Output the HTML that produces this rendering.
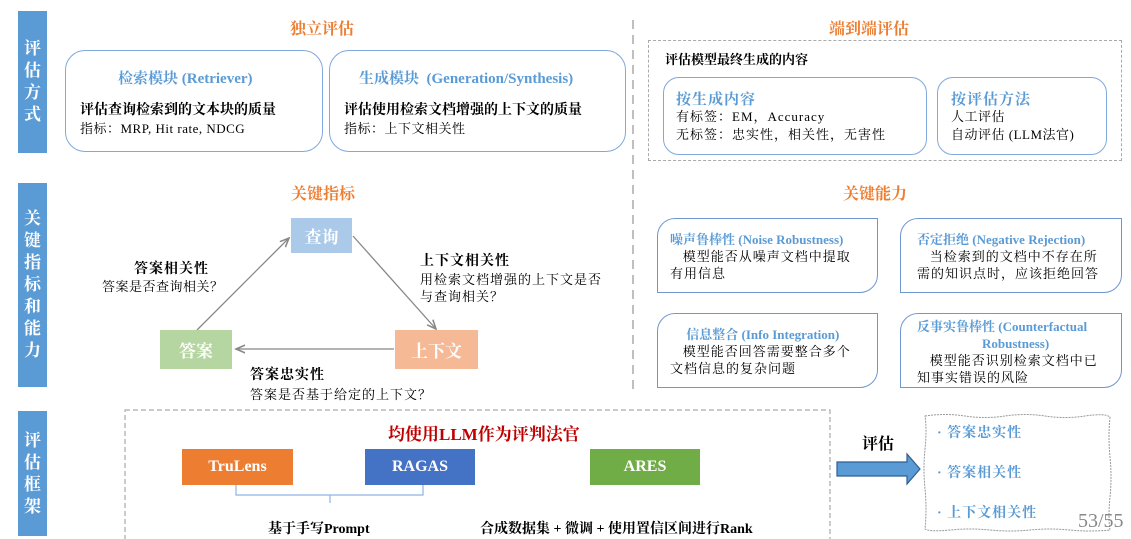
<!DOCTYPE html>
<html><head><meta charset="utf-8"><style>
*{margin:0;padding:0;box-sizing:border-box}
body{width:1131px;height:539px;background:#fff;position:relative;overflow:hidden;font-family:"Liberation Serif","Noto Serif CJK SC",serif;color:#000}
.a{position:absolute;white-space:nowrap}
.bar{position:absolute;left:18px;width:29px;background:#5b9bd5;color:#fff;font-weight:bold;font-size:17px;line-height:22px;text-align:center;display:flex;flex-direction:column;justify-content:center;align-items:center}
.or{color:#ed7d31;font-weight:bold;font-size:16px}
.rb{position:absolute;border:1.5px solid #7fa8dc;border-radius:20px}
.bt{color:#5b9bd5;font-weight:bold}
.leaf{position:absolute;border:1.5px solid #6f98d0;border-radius:18px 0 18px 0;font-size:13px;line-height:17px;padding:12px 0 0 12px;letter-spacing:1px}
.leaf .bt{letter-spacing:0}
.cb{position:absolute;color:#fff;font-size:17px;font-weight:bold;display:flex;align-items:center;justify-content:center}
.s{font-size:13px;letter-spacing:0.5px}
</style></head><body>
<div class="bar" style="top:11px;height:142px">评<br>估<br>方<br>式</div>
<div class="bar" style="top:183px;height:204px">关<br>键<br>指<br>标<br>和<br>能<br>力</div>
<div class="bar" style="top:411px;height:125px">评<br>估<br>框<br>架</div>

<div class="a or" style="left:290px;top:16px">独立评估</div>
<div class="rb" style="left:65px;top:50px;width:258px;height:102px"></div>
<div class="rb" style="left:329px;top:50px;width:297px;height:102px"></div>
<div class="a bt" style="left:118px;top:67px;font-size:15px">检索模块 (Retriever)</div>
<div class="a" style="left:80px;top:102px;font-size:14px;font-weight:bold;line-height:18px">评估查询检索到的文本块的质量</div>
<div class="a s" style="left:80px;top:120px;line-height:17px">指标：MRP, Hit rate, NDCG</div>
<div class="a bt" style="left:359px;top:67px;font-size:15px">生成模块 &nbsp;(Generation/Synthesis)</div>
<div class="a" style="left:344px;top:102px;font-size:14px;font-weight:bold;line-height:18px">评估使用检索文档增强的上下文的质量</div>
<div class="a s" style="left:344px;top:120px;line-height:17px">指标：上下文相关性</div>

<div class="a or" style="left:829px;top:16px">端到端评估</div>
<div class="a" style="left:648px;top:40px;width:474px;height:121px;border:1.5px dashed #aaa"></div>
<div class="a" style="left:665px;top:49px;font-size:13px;font-weight:bold">评估模型最终生成的内容</div>
<div class="rb" style="left:663px;top:77px;width:264px;height:78px;border-radius:16px"></div>
<div class="rb" style="left:937px;top:77px;width:170px;height:78px;border-radius:16px"></div>
<div class="a bt" style="left:676px;top:88px;font-size:15px;letter-spacing:1px">按生成内容</div>
<div class="a s" style="left:676px;top:108px;line-height:18px;letter-spacing:1px">有标签：EM，Accuracy<br>无标签：忠实性，相关性，无害性</div>
<div class="a bt" style="left:951px;top:88px;font-size:15px;letter-spacing:1px">按评估方法</div>
<div class="a s" style="left:951px;top:108px;line-height:18px">人工评估<br>自动评估 (LLM法官)</div>

<svg class="a" style="left:0;top:0" width="1131" height="539">
<defs><marker id="m" markerWidth="8" markerHeight="8" refX="7" refY="4" orient="auto"><path d="M0,1 L7,4 L0,7" fill="none" stroke="#888" stroke-width="1.2"/></marker></defs>
<line x1="633" y1="20" x2="633" y2="390" stroke="#aaa" stroke-width="1.5" stroke-dasharray="9,6"/>
<line x1="197" y1="330" x2="289" y2="238" stroke="#888" stroke-width="1.3" marker-end="url(#m)"/>
<line x1="353" y1="236" x2="436" y2="329" stroke="#888" stroke-width="1.3" marker-end="url(#m)"/>
<line x1="394" y1="349" x2="236" y2="349" stroke="#888" stroke-width="1.3" marker-end="url(#m)"/>
<rect x="125" y="410" width="705" height="140" fill="none" stroke="#aaa" stroke-width="1.2" stroke-dasharray="5,3"/>
<path d="M236,485 v10 h94 v8 M330,495 h93 v-10" fill="none" stroke="#8eb4e3" stroke-width="1.2"/>
<path d="M837,462 h70 v-8 l13,15 l-13,15 v-8 h-70 z" fill="#5b9bd5" stroke="#2f5f8f" stroke-width="1.2"/>
<path d="M925,416 q20,-3 40,0 t40,0 t40,0 t40,0 t25,1 q-2,20 0,40 t0,40 t0,33 q-20,2 -40,0 t-40,0 t-40,0 t-40,0 t-25,-1 q2,-20 0,-40 t0,-40 t0,-33 z" fill="none" stroke="#999" stroke-width="1" stroke-dasharray="2,1"/>
</svg>

<div class="a or" style="left:291px;top:181px">关键指标</div>
<div class="cb" style="left:291px;top:218px;width:61px;height:35px;background:#abc9e8">查询</div>
<div class="cb" style="left:160px;top:330px;width:72px;height:39px;background:#b6d6a1">答案</div>
<div class="cb" style="left:395px;top:330px;width:83px;height:39px;background:#f5ba95">上下文</div>
<div class="a" style="left:134px;top:258px;font-size:14px;font-weight:bold;letter-spacing:1px">答案相关性</div>
<div class="a" style="left:102px;top:276px;font-size:13px;letter-spacing:0.5px">答案是否查询相关？</div>
<div class="a" style="left:420px;top:250px;font-size:14px;font-weight:bold;letter-spacing:1px">上下文相关性</div>
<div class="a" style="left:420px;top:271px;font-size:13px;line-height:17px;letter-spacing:1px">用检索文档增强的上下文是否<br>与查询相关？</div>
<div class="a" style="left:250px;top:364px;font-size:14px;font-weight:bold;letter-spacing:1px">答案忠实性</div>
<div class="a" style="left:250px;top:384px;font-size:13px;letter-spacing:1px">答案是否基于给定的上下文？</div>

<div class="a or" style="left:843px;top:181px">关键能力</div>
<div class="leaf" style="left:657px;top:218px;width:221px;height:75px"><span class="bt">噪声鲁棒性 (Noise Robustness)</span><br>&nbsp;&nbsp;&nbsp;模型能否从噪声文档中提取<br>有用信息</div>
<div class="leaf" style="left:900px;top:218px;width:222px;height:75px;padding-left:16px"><span class="bt">否定拒绝 (Negative Rejection)</span><br>&nbsp;&nbsp;&nbsp;当检索到的文档中不存在所<br>需的知识点时，应该拒绝回答</div>
<div class="leaf" style="left:657px;top:313px;width:221px;height:75px;padding-left:12px"><span class="bt">&nbsp;&nbsp;&nbsp;&nbsp;&nbsp;信息整合 (Info Integration)</span><br>&nbsp;&nbsp;&nbsp;模型能否回答需要整合多个<br>文档信息的复杂问题</div>
<div class="leaf" style="left:900px;top:313px;width:222px;height:75px;padding:4px 0 0 16px"><span class="bt">反事实鲁棒性 (Counterfactual<br>&nbsp;&nbsp;&nbsp;&nbsp;&nbsp;&nbsp;&nbsp;&nbsp;&nbsp;&nbsp;&nbsp;&nbsp;&nbsp;&nbsp;&nbsp;&nbsp;&nbsp;&nbsp;&nbsp;&nbsp;Robustness)</span><br>&nbsp;&nbsp;&nbsp;模型能否识别检索文档中已<br>知事实错误的风险</div>

<div class="a" style="left:388px;top:420px;font-size:17px;font-weight:bold;color:#c00000">均使用LLM作为评判法官</div>
<div class="cb" style="left:182px;top:449px;width:111px;height:36px;background:#ed7d31;font-size:16px">TruLens</div>
<div class="cb" style="left:365px;top:449px;width:110px;height:36px;background:#4472c4;font-size:16px">RAGAS</div>
<div class="cb" style="left:590px;top:449px;width:110px;height:36px;background:#70ad47;font-size:16px">ARES</div>
<div class="a" style="left:268px;top:518px;font-size:14px;font-weight:bold">基于手写Prompt</div>
<div class="a" style="left:480px;top:518px;font-size:14px;font-weight:bold">合成数据集 + 微调 + 使用置信区间进行Rank</div>
<div class="a" style="left:862px;top:431px;font-size:16px;font-weight:bold">评估</div>
<div class="a bt" style="left:937px;top:414px;font-size:14px;line-height:40px;letter-spacing:1px">· 答案忠实性<br>· 答案相关性<br>· 上下文相关性</div>
<div class="a" style="left:1078px;top:510px;font-size:20px;color:#888">53/55</div>
</body></html>
